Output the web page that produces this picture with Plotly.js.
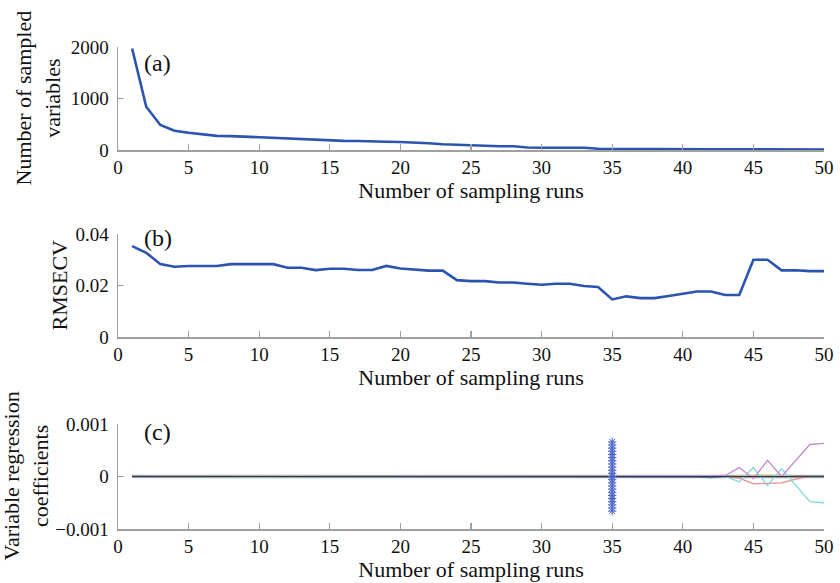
<!DOCTYPE html>
<html>
<head>
<meta charset="utf-8">
<script src="https://cdn.plot.ly/plotly-3.0.1.min.js"></script>
<style>html,body{margin:0;padding:0;background:#fff;}#chart{width:840px;height:583px;}</style>
</head>
<body>
<div id="chart"></div>
<script>
// ---------- data ----------
var runs = [1,2,3,4,5,6,7,8,9,10,11,12,13,14,15,16,17,18,19,20,21,22,23,24,25,26,27,28,29,30,31,32,33,34,35,36,37,38,39,40,41,42,43,44,45,46,47,48,49,50];

var nVars = [1970,840,485,375,336,300,275,270,258,243,238,215,205,200,180,178,176,175,160,155,146,130,112,100,90,86,72,72,50,45,45,45,44,25,22,21,20,19,18,17,16,15,14,13,12,12,11,11,10,10];

var rmsecv = [0.0353,0.0327,0.0283,0.0273,0.0276,0.0276,0.0276,0.0283,0.0283,0.0283,0.0283,0.0269,0.0269,0.0260,0.0265,0.0265,0.0260,0.0260,0.0276,0.0266,0.0262,0.0258,0.0258,0.0221,0.0217,0.0217,0.0212,0.0212,0.0207,0.0203,0.0207,0.0207,0.0198,0.0194,0.0146,0.0158,0.0151,0.0151,0.0159,0.0167,0.0177,0.0177,0.0163,0.0163,0.0300,0.0300,0.0259,0.0259,0.0256,0.0256];

var coefPurple = [0,0,0,0,0,0,0,0,0,0,0,0,0,0,0,0,0,0,0,0,0,0,0,0,0,0,0,0,0,0,0,0,0,0,0,0,0,0,0,0,0,0.00001,0.00002,0.00017,-0.00004,0.00031,0.0,0.0003,0.00061,0.00063];
var coefCyan   = [0,0,0,0,0,0,0,0,0,0,0,0,0,0,0,0,0,0,0,0,0,0,0,0,0,0,0,0,0,0,0,0,0,0,0,0,0,0,0,0,0,0,0,-0.0001,0.00017,-0.00017,0.00015,-0.00017,-0.00048,-0.0005];
var coefRed    = [0.000005,0.000005,0.000005,0.000005,0.000005,0.000005,0.000005,0.000005,0.000005,0.000005,0.000005,0.000005,0.000005,0.000005,0.000005,0,0,0,0,0,0,0,0,0,0,0,0,0,0,0,0,0,0,0,0,0,0,0,0,0,0,0,0,-0.00003,-0.00014,-0.00013,-0.00012,-0.00005,0,null];
var coefYellow = [0,0,0,0,0,0,0,0,0,0,0,0,0,0,0,0,0,0,0,0,0,0,0,0,0,0,0,0,0,0,0,0,0,0,0,0,0,0,0,0,0,0,0,0.00002,0.00003,0.00003,0.00002,0,0,0];
var coefGreen  = [0.000004,0.000004,0.000004,0.000004,0.000004,0.000004,0.000004,0.000004,0.000004,0.000004,0.000004,0.000004,0.000004,0.000004,0.000004,0.000004,0.000004,0.000004,0.000004,0.000004,0.000004,0.000004,0.000004,0.000004,0.000004,0.000004,0.000004,0.000004,0.000004,0.000004,0.000004,0.000004,0.000004,0.000004,0.000004,0.000003,0.000003,0.000003,0.000002,0.000002,0,0,0,0,0,0,0,0,0,0];
var coefBlue   = [0,0,0,0,0,0,0,0,0,0,0,0,0,0,0,0,0,0,0,0,0,0,0,0,0,0,0,0,0,0,0,0,0,0,0,0,0,0,0,0,-0.00001,-0.00002,0,0,0,0,0,0,0,0];
var coefBlack  = [0,0,0,0,0,0,0,0,0,0,0,0,0,0,0,0,0,0,0,0,0,0,0,0,0,0,0,0,0,0,0,0,0,0,0,0,0,0,0,0,0,0,0,0,0,0,0,0,0,0];

var optRun = [35,35,35,35,35,35,35,35,35,35,35,35,35,35,35,35,35,35,35,35,35,35,35];
var optCoef = [0.00066,0.0006,0.00054,0.00048,0.00042,0.00036,0.0003,0.00024,0.00018,0.00012,0.00006,0.0,-0.00006,-0.00012,-0.00018,-0.00024,-0.0003,-0.00036,-0.00042,-0.00048,-0.00054,-0.0006,-0.00066];

var xTicks = [0,5,10,15,20,25,30,35,40,45,50];
var xTickText = ['0','5','10','15','20','25','30','35','40','45','50'];

// ---------- styling ----------
var FONT = 'Liberation Serif, Times New Roman, serif';
var AX = '#a0a0a0';
var BLUE = '#2b53b0';
var TSIZE = 22;

function xax(anchor) {
  return {
    anchor: anchor, range: [0, 50], tickvals: xTicks, ticktext: xTickText,
    showline: true, linecolor: AX, linewidth: 1.5, mirror: false,
    ticks: 'inside', ticklen: 6, tickcolor: AX, tickwidth: 1.2,
    showgrid: false, zeroline: false,
    tickfont: {family: FONT, size: 19, color: '#111'},
    title: {text: 'Number of sampling runs', font: {family: FONT, size: TSIZE, color: '#111'}, standoff: 0},
    automargin: false, fixedrange: true
  };
}
function yax(anchor, dom, rng, vals, txt) {
  return {
    anchor: anchor, domain: dom, range: rng, tickvals: vals, ticktext: txt,
    showline: true, linecolor: AX, linewidth: 1.5, mirror: false,
    ticks: 'inside', ticklen: 6, tickcolor: AX, tickwidth: 1.2,
    showgrid: false, zeroline: false,
    tickfont: {family: FONT, size: 19, color: '#111'},
    ticklabelstandoff: 4,
    automargin: false, fixedrange: true
  };
}

var traces = [
  {x: runs, y: nVars, xaxis: 'x', yaxis: 'y', mode: 'lines', line: {color: BLUE, width: 2.6}},
  {x: runs, y: rmsecv, xaxis: 'x2', yaxis: 'y2', mode: 'lines', line: {color: BLUE, width: 2.6}},
  {x: runs, y: coefBlack, xaxis: 'x3', yaxis: 'y3', mode: 'lines', line: {color: '#b0b0b0', width: 3.5}},
  {x: runs, y: coefGreen, xaxis: 'x3', yaxis: 'y3', mode: 'lines', line: {color: '#5a9a5a', width: 1.2}},
  {x: runs, y: coefRed, xaxis: 'x3', yaxis: 'y3', mode: 'lines', line: {color: '#f08a8a', width: 1.2}},
  {x: runs, y: coefYellow, xaxis: 'x3', yaxis: 'y3', mode: 'lines', line: {color: '#e6df8e', width: 1.4}},
  {x: runs, y: coefBlue, xaxis: 'x3', yaxis: 'y3', mode: 'lines', line: {color: '#3b4fa8', width: 1.4}},
  {x: runs, y: coefCyan, xaxis: 'x3', yaxis: 'y3', mode: 'lines', line: {color: '#7ed8d8', width: 1.3}},
  {x: runs, y: coefPurple, xaxis: 'x3', yaxis: 'y3', mode: 'lines', line: {color: '#c98ad3', width: 1.3}},
  {x: runs, y: coefBlack, xaxis: 'x3', yaxis: 'y3', mode: 'lines', line: {color: '#2f3b3f', width: 1.2}},
  {x: optRun, y: optCoef, xaxis: 'x3', yaxis: 'y3', mode: 'markers',
   marker: {symbol: 'asterisk-open', size: 7, color: '#4a62c8', line: {color: '#4a62c8', width: 1}}}
];

var layout = {
  width: 840, height: 583,
  margin: {l: 118, r: 16, t: 47, b: 54},
  paper_bgcolor: '#fff', plot_bgcolor: '#fff',
  showlegend: false,
  font: {family: FONT, color: '#111'},
  xaxis: xax('y'),
  xaxis2: xax('y2'),
  xaxis3: xax('y3'),
  yaxis: yax('x', [0.7863, 1], [0, 2000], [0, 1000, 2000], ['0', '1000', '2000']),
  yaxis2: yax('x2', [0.3983, 0.612], [0, 0.04], [0, 0.02, 0.04], ['0', '0.02', '0.04']),
  yaxis3: yax('x3', [0, 0.2178], [-0.001, 0.001], [-0.001, 0, 0.001], ['\u22120.001', '0', '0.001']),
  annotations: [
    {xref: 'x domain', yref: 'y domain', x: 0.034, y: 0.845, xanchor: 'left', yanchor: 'middle', showarrow: false, text: '(a)', font: {family: FONT, size: 24, color: '#111'}},
    {xref: 'x2 domain', yref: 'y2 domain', x: 0.034, y: 0.96, xanchor: 'left', yanchor: 'middle', showarrow: false, text: '(b)', font: {family: FONT, size: 24, color: '#111'}},
    {xref: 'x3 domain', yref: 'y3 domain', x: 0.034, y: 0.924, xanchor: 'left', yanchor: 'middle', showarrow: false, text: '(c)', font: {family: FONT, size: 24, color: '#111'}},
    {xref: 'paper', yref: 'y domain', x: 0, y: 0.5, xshift: -80, xanchor: 'center', yanchor: 'middle', textangle: -90, showarrow: false, text: 'Number of sampled<br>variables', font: {family: FONT, size: TSIZE, color: '#111'}},
    {xref: 'paper', yref: 'y2 domain', x: 0, y: 0.5, xshift: -58, xanchor: 'center', yanchor: 'middle', textangle: -90, showarrow: false, text: 'RMSECV', font: {family: FONT, size: TSIZE, color: '#111'}},
    {xref: 'paper', yref: 'y3 domain', x: 0, y: 0.5, xshift: -92, xanchor: 'center', yanchor: 'middle', textangle: -90, showarrow: false, text: 'Variable regression<br>coefficients', font: {family: FONT, size: TSIZE, color: '#111'}}
  ]
};

Plotly.newPlot('chart', traces, layout, {displayModeBar: false, staticPlot: true});
</script>
</body>
</html>
